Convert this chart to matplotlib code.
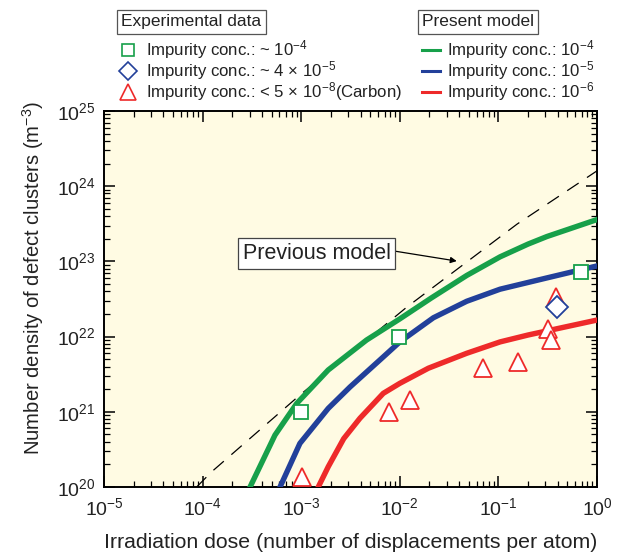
import matplotlib
matplotlib.use("Agg")
import matplotlib.pyplot as plt
import numpy as np
from matplotlib.lines import Line2D
from matplotlib.ticker import LogLocator, NullFormatter

plt.rcParams["font.family"] = ["Liberation Sans", "DejaVu Sans"]
plt.rcParams["mathtext.fontset"] = "custom"
plt.rcParams["mathtext.rm"] = "Liberation Sans"
plt.rcParams["mathtext.it"] = "Liberation Sans:italic"
plt.rcParams["mathtext.bf"] = "Liberation Sans:bold"

# experimental data (dose in dpa, density in m^-3)
sq_dose = [1.0e-3, 9.8e-3, 0.69]
sq_dens = [1.0e21, 1.0e22, 7.2e22]
dia_dose = [0.39]
dia_dens = [2.45e22]
tri_dose = [1.03e-3, 7.7e-3, 1.26e-2, 0.07, 0.157, 0.316, 0.34, 0.38]
tri_dens = [1.37e20, 1.0e21, 1.44e21, 3.8e21, 4.6e21, 1.25e22, 9.0e21, 3.4e22]

# present model curves
g_dose = [3.03e-4, 5.42e-4, 9.0e-4, 1.88e-3, 4.6e-3, 1.0e-2, 2.1e-2, 4.77e-2,
          0.104, 0.2, 0.31, 1.0]
g_dens = [1.0e20, 4.9e20, 1.29e21, 3.6e21, 9.0e21, 1.72e22, 3.28e22, 6.5e22,
          1.15e23, 1.7e23, 2.14e23, 3.6e23]
b_dose = [6.1e-4, 9.7e-4, 1.88e-3, 3.13e-3, 6.8e-3, 1.0e-2, 2.19e-2, 4.77e-2,
          0.104, 0.2, 0.31, 1.0]
b_dens = [1.0e20, 3.8e20, 1.11e21, 2.14e21, 5.37e21, 8.5e21, 1.78e22, 2.95e22,
          4.27e22, 5.25e22, 6.03e22, 8.7e22]
r_dose = [1.49e-3, 1.88e-3, 2.7e-3, 3.94e-3, 6.8e-3, 1.0e-2, 1.95e-2, 4.77e-2,
          0.104, 0.2, 0.31, 1.0]
r_dens = [1.0e20, 1.86e20, 4.4e20, 8.2e20, 1.76e21, 2.39e21, 3.8e21, 6.0e21,
          8.5e21, 1.05e22, 1.19e22, 1.66e22]

# previous model (dashed)
prev_dose = [8.7e-5, 1.24e-4, 9.7e-4, 1.17e-2, 0.155, 1.0]
prev_dens = [1.0e20, 1.6e20, 1.67e21, 2.45e22, 3.14e23, 1.6e24]

GREEN = "#17a04a"
BLUE = "#22409a"
RED = "#ee2a2a"
TXT = "#222222"

W, H = 627, 554
fig = plt.figure(figsize=(W / 100, H / 100), dpi=100)
ax = fig.add_axes([104 / W, 1 - 487 / H, 493 / W, 376 / H])
ax.set_facecolor("#fffbe3")

ax.plot(prev_dose, prev_dens, color="black", lw=0.9, ls=(0, (11, 8)), zorder=2)
ax.plot(g_dose, g_dens, color=GREEN, lw=3.9, solid_joinstyle="round", zorder=3)
ax.plot(b_dose, b_dens, color=BLUE, lw=3.9, solid_joinstyle="round", zorder=3)
ax.plot(r_dose, r_dens, color=RED, lw=3.9, solid_joinstyle="round", zorder=3)

ax.plot(sq_dose, sq_dens, ls="none", marker="s", ms=10, mfc="white",
        mec=GREEN, mew=1.3, zorder=4)
ax.plot(tri_dose, tri_dens, ls="none", marker="^", ms=13.5, mfc="white",
        mec=RED, mew=1.3, zorder=4)
ax.plot(dia_dose, dia_dens, ls="none", marker="D", ms=11, mfc="white",
        mec=BLUE, mew=1.3, zorder=5)

ax.set_xscale("log")
ax.set_yscale("log")
ax.set_xlim(1e-5, 1)
ax.set_ylim(1e20, 1e25)
ax.xaxis.set_minor_locator(LogLocator(base=10, subs=np.arange(2, 10), numticks=20))
ax.yaxis.set_minor_locator(LogLocator(base=10, subs=np.arange(2, 10), numticks=20))
ax.xaxis.set_minor_formatter(NullFormatter())
ax.yaxis.set_minor_formatter(NullFormatter())
ax.tick_params(which="both", direction="in", top=True, right=True, labelsize=14,
               labelcolor=TXT)
ax.tick_params(which="major", length=8, width=1.1)
ax.tick_params(which="minor", length=4.5, width=0.9)
ax.tick_params(axis="x", pad=7)
ax.tick_params(axis="y", pad=6)
for s in ax.spines.values():
    s.set_linewidth(1.4)

ax.set_xlabel("Irradiation dose (number of displacements per atom)", fontsize=15.3,
              color=TXT, labelpad=10)
ax.set_ylabel("Number density of defect clusters (m$^{-3}$)", fontsize=14.6,
              color=TXT)
ax.yaxis.set_label_coords(-0.117, 0.556)

ax.annotate("Previous model", xy=(3.78e-2, 1.01e23), xytext=(1.43e-3, 1.27e23),
            fontsize=15.5, ha="center", va="center", color=TXT,
            bbox=dict(boxstyle="square,pad=0.22", fc="white", ec="#444444", lw=0.9),
            arrowprops=dict(arrowstyle="-|>", color="black", lw=0.9, relpos=(1.0, 0.65),
                            shrinkA=0, shrinkB=0, mutation_scale=9),
            zorder=6)

# legend headers
fig.text(191.5 / W, 1 - 21.7 / H, "Experimental data", fontsize=12.5, ha="center",
         va="center", color=TXT,
         bbox=dict(boxstyle="square,pad=0.25", fc="white", ec="#555555", lw=0.9))
fig.text(478 / W, 1 - 21.7 / H, "Present model", fontsize=12.5, ha="center",
         va="center", color=TXT,
         bbox=dict(boxstyle="square,pad=0.25", fc="white", ec="#555555", lw=0.9))

# legend entries, experimental data
exp_labels = ["Impurity conc.: ~ 10$^{-4}$",
              "Impurity conc.: ~ 4 × 10$^{-5}$",
              "Impurity conc.: < 5 × 10$^{-8}$(Carbon)"]
exp_styles = [("s", GREEN, 8.3), ("D", BLUE, 8.8), ("^", RED, 11)]
rows = [49.5, 70.5, 91.5]
for (mk, col, ms), lab, y in zip(exp_styles, exp_labels, rows):
    fig.add_artist(Line2D([127.5 / W], [1 - y / H], ls="none", marker=mk, ms=ms,
                          mfc="white", mec=col, mew=1.2, transform=fig.transFigure))
    fig.text(146 / W, 1 - (y + 6) / H, lab, fontsize=12.1, ha="left",
             va="baseline", color=TXT)

# legend entries, present model
mod_labels = ["Impurity conc.: 10$^{-4}$",
              "Impurity conc.: 10$^{-5}$",
              "Impurity conc.: 10$^{-6}$"]
for col, lab, y in zip([GREEN, BLUE, RED], mod_labels, rows):
    fig.add_artist(Line2D([421.5 / W, 439.5 / W], [1 - y / H, 1 - y / H], color=col,
                          lw=2.2, transform=fig.transFigure))
    fig.text(447 / W, 1 - (y + 6) / H, lab, fontsize=12.1, ha="left",
             va="baseline", color=TXT)

fig.savefig("out.png", dpi=100)
